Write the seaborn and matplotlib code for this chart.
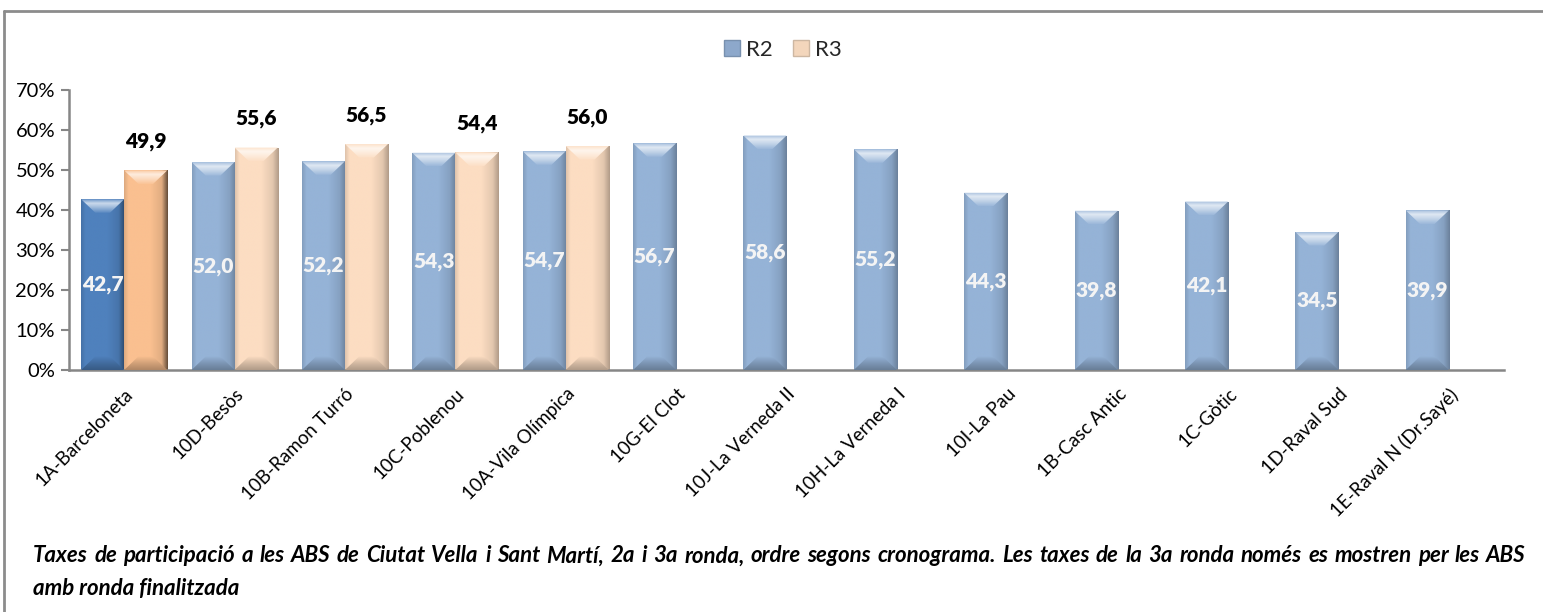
"""
Taxes de participació a les ABS de Ciutat Vella i Sant Martí (R2 / R3)
"""

import numpy as np
import pandas as pd
import matplotlib
import matplotlib.pyplot as plt
import matplotlib.ticker as mticker
from matplotlib.colors import LinearSegmentedColormap, to_rgb
from matplotlib.patches import Polygon, Patch
from matplotlib.transforms import ScaledTranslation
import seaborn as sns

matplotlib.use("Agg")

# ============================================================
# DADES
# ============================================================

abs_noms = [
    "1A-Barceloneta", "10D-Besòs", "10B-Ramon Turró", "10C-Poblenou",
    "10A-Vila Olímpica", "10G-El Clot", "10J-La Verneda II",
    "10H-La Verneda I", "10I-La Pau", "1B-Casc Antic", "1C-Gòtic",
    "1D-Raval Sud", "1E-Raval N (Dr.Sayé)",
]
rondes = ["R2", "R3"]
taxa_r2 = [42.7, 52.0, 52.2, 54.3, 54.7, 56.7, 58.6, 55.2, 44.3, 39.8, 42.1, 34.5, 39.9]
taxa_r3 = [49.9, 55.6, 56.5, 54.4, 56.0, None, None, None, None, None, None, None, None]
y_ticks = [0, 10, 20, 30, 40, 50, 60, 70]

peu_linia1 = ("Taxes de participació a les ABS de Ciutat Vella i Sant Martí, 2a i 3a ronda, "
              "ordre segons cronograma. Les taxes de la 3a ronda només es mostren per les ABS")
peu_linia2 = "amb ronda finalitzada"

# ============================================================
# ESTIL
# ============================================================

BLAU_CLAR = "#95B3D7"
BLAU_FOSC = "#4F81BD"
PRESSEC_CLAR = "#FCDDC2"
PRESSEC_FOSC = "#FAC090"
GRIS_EIX = "#868686"

sns.set_theme(style="white")
plt.rcParams["font.family"] = ["Lato", "DejaVu Sans"]

W, H = 1543, 612


def _to(c, k):
    """Enfosqueix (k<1) o aclareix (k>1, cap al blanc) un color."""
    r = np.array(to_rgb(c))
    if k <= 1:
        return tuple(r * k)
    return tuple(r + (1 - r) * (k - 1))


def _degradat(ax, clip, extent, colors, vertical=False, z=2):
    cmap = LinearSegmentedColormap.from_list("g", colors)
    g = np.linspace(0, 1, 128)
    g = g.reshape(-1, 1) if vertical else g.reshape(1, -1)
    im = ax.imshow(g, extent=extent, aspect="auto", cmap=cmap, origin="lower",
                   interpolation="bilinear", zorder=z)
    im.set_clip_path(clip)


def _barra_3d(ax, bar, base, fosc_dreta):
    """Barra amb aspecte bisellat (estil Excel)."""
    x0, w, h = bar.get_x(), bar.get_width(), bar.get_height()
    bar.set_facecolor(base)
    bar.set_edgecolor("none")
    bar.set_zorder(1)
    _degradat(ax, bar, [x0, x0 + w, 0, h],
              [(0, _to(base, 0.88)), (0.1, base), (0.6, base),
               (0.86, _to(base, 0.9)), (1, _to(base, fosc_dreta))])
    d, ins = 3.4, 0.33 * w
    # bisell superior
    sup = Polygon([(x0, h), (x0 + w, h), (x0 + w - ins, h - d), (x0 + ins, h - d)],
                  closed=True, facecolor="none", edgecolor="none")
    ax.add_patch(sup)
    _degradat(ax, sup, [x0, x0 + w, h - d, h],
              [(0, _to(base, 1.05)), (0.4, _to(base, 1.45)), (0.7, _to(base, 1.7)), (1, _to(base, 1.15))],
              vertical=True, z=3)
    # bisell inferior
    inf = Polygon([(x0, 0), (x0 + w, 0), (x0 + w - ins, d), (x0 + ins, d)],
                  closed=True, facecolor="none", edgecolor="none")
    ax.add_patch(inf)
    _degradat(ax, inf, [x0, x0 + w, 0, d],
              [(0, _to(base, 0.7)), (0.5, _to(base, 0.84)), (1, base)],
              vertical=True, z=3)


# ============================================================
# GRÀFIC
# ============================================================

df = pd.DataFrame({
    "abs": abs_noms * 2,
    "ronda": ["R2"] * len(abs_noms) + ["R3"] * len(abs_noms),
    "taxa": taxa_r2 + taxa_r3,
}).dropna()

fig = plt.figure(figsize=(W / 100, H / 100), dpi=100)
ax = fig.add_axes([69 / W, 1 - 370 / H, (1504 - 69) / W, 280 / H])

sns.barplot(data=df, x="abs", y="taxa", hue="ronda", order=abs_noms,
            hue_order=rondes, palette=[BLAU_CLAR, PRESSEC_CLAR], width=0.78,
            saturation=1, errorbar=None, legend=False, ax=ax)

cont_r2, cont_r3 = ax.containers[0], ax.containers[1]
for bar in cont_r2:
    primer = round(bar.get_x() + bar.get_width() / 2) == 0
    _barra_3d(ax, bar, BLAU_FOSC if primer else BLAU_CLAR, 0.55 if primer else 0.72)
for bar in cont_r3:
    primer = round(bar.get_x() + bar.get_width() / 2) == 0
    _barra_3d(ax, bar, PRESSEC_FOSC if primer else PRESSEC_CLAR, 0.4 if primer else 0.7)

ax.bar_label(cont_r2, labels=[f"{b.get_height():.1f}".replace(".", ",") for b in cont_r2],
             label_type="center", color="#F4F4F4", fontsize=15, fontweight="heavy", zorder=5)
ax.bar_label(cont_r3, labels=[f"{b.get_height():.1f}".replace(".", ",") for b in cont_r3],
             padding=14, color="black", fontsize=15, fontweight="heavy", zorder=5)

ax.set_xlim(-0.5, len(abs_noms) - 0.5)
ax.set_ylim(0, 70)
ax.set_yticks(y_ticks)
ax.yaxis.set_major_formatter(mticker.FuncFormatter(lambda v, _: f"{v:.0f}%"))
ax.set_xlabel("")
ax.set_ylabel("")

ax.set_xticks(range(len(abs_noms)))
ax.set_xticklabels(abs_noms, rotation=45, ha="right", va="top",
                   rotation_mode="anchor", fontsize=13.5)
for lab in ax.get_xticklabels():
    lab.set_transform(lab.get_transform() + ScaledTranslation(0.05, 0.0, fig.dpi_scale_trans))
ax.set_xticks(np.arange(-0.5, len(abs_noms), 1.0), minor=True)
ax.tick_params(axis="x", which="major", length=0, pad=11, colors="black")
ax.tick_params(axis="x", which="minor", length=6, width=1.5, color=GRIS_EIX, direction="out")
ax.tick_params(axis="y", left=True, length=6, width=1.5, color=GRIS_EIX,
               direction="out", labelsize=14.5, labelcolor="black", pad=4)

for s in ["top", "right"]:
    ax.spines[s].set_visible(False)
for s in ["left", "bottom"]:
    ax.spines[s].set_color(GRIS_EIX)
    ax.spines[s].set_linewidth(1.8)
ax.grid(False)

# Llegenda
handles = [Patch(facecolor="#8DA8CB", edgecolor="#7890AE", label="R2"),
           Patch(facecolor="#F3D6BC", edgecolor="#CDB7A2", label="R3")]
fig.legend(handles=handles, loc="center", bbox_to_anchor=(783 / W, 1 - 50 / H),
           ncol=2, frameon=False, fontsize=16, handlelength=0.7, handleheight=0.7,
           handletextpad=0.3, columnspacing=0.9)

# Marc gris (costat superior i esquerre)
fig.add_artist(plt.Line2D([4 / W, 1], [1 - 11 / H, 1 - 11 / H], color="#8C8C8C", lw=2))
fig.add_artist(plt.Line2D([4 / W, 4 / W], [0, 1 - 11 / H], color="#8C8C8C", lw=2))

# Peu de figura, primera línia justificada
fig.canvas.draw()
rend = fig.canvas.get_renderer()
paraules = peu_linia1.split(" ")
estil = dict(fontsize=16, fontweight="bold", fontstyle="italic", color="black")
textos = [fig.text(0, 0, p, **estil) for p in paraules]
amples = [t.get_window_extent(rend).width for t in textos]
x_ini, x_fi = 33, 1526
espai = (x_fi - x_ini - sum(amples)) / (len(paraules) - 1)
x = x_ini
for t, a in zip(textos, amples):
    t.set_position((x / W, 1 - 556 / H))
    t.set_va("center")
    x += a + espai
fig.text(x_ini / W, 1 - 589 / H, peu_linia2, va="center", **estil)

fig.savefig("out.png", dpi=100, facecolor="white")
